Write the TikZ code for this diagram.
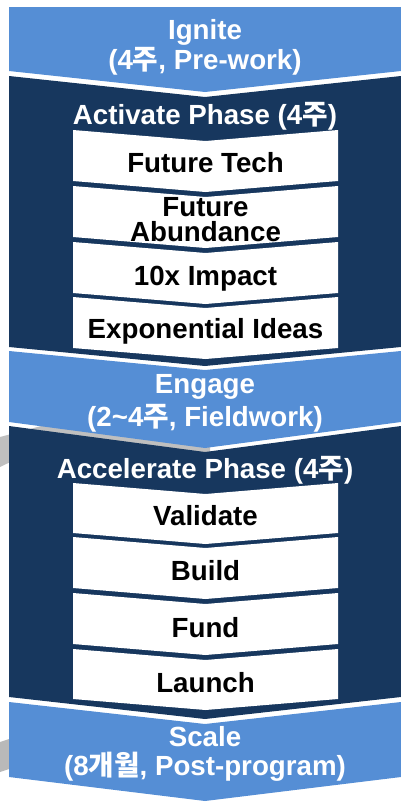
\documentclass[tikz,border=0pt]{standalone}
\usepackage{fontspec}
\setmainfont{Liberation Sans}
\newfontfamily\kr{Noto Sans CJK KR}
\definecolor{lblue}{HTML}{558ED5}
\definecolor{navy}{HTML}{17375E}
\newcommand\chevband[5]{\fill[#1] (9,#2) -- (205,#2+#4) -- (401,#2) -- (401,#3) -- (205,#3+#5) -- (9,#3) -- cycle;}
\newcommand\innerchev[2]{\fill[white] (73,#1) -- (205.5,#1+11) -- (338,#1) -- (338,#2) -- (205.5,#2+11) -- (73,#2) -- cycle;}
\begin{document}
\begin{tikzpicture}[x=1pt,y=-1pt,
  wt/.style={text=white,font=\fontsize{27.7}{30}\selectfont\bfseries,anchor=base,inner sep=0pt},
  bt/.style={text=black,font=\fontsize{27.7}{30}\selectfont\bfseries,anchor=base,inner sep=0pt}]
\useasboundingbox (0,0) rectangle (400,803);
% faint grey background marks
\fill[gray!50] (0,437) -- (60,421) -- (210,441) -- (210,458) -- (60,438) -- (0,467) -- cycle;
\fill[gray!55] (0,742) -- (12,738) -- (12,768) -- (0,772) -- cycle;
% bands
\fill[lblue] (9,7) -- (401,7) -- (401,71) -- (205,92) -- (9,71) -- cycle;
\chevband{navy}{76}{347}{21}{19}
\chevband{lblue}{351}{422}{19}{26}
\chevband{navy}{426}{697}{26}{22}
\chevband{lblue}{702}{777}{22}{24}
% inner boxes
\innerchev{130}{181}
\innerchev{186}{237}
\innerchev{242}{293}
\innerchev{297}{348}
\innerchev{483}{533}
\innerchev{537}{588}
\innerchev{593}{644}
\innerchev{649}{699}
% texts
\node[wt] (ig1) at (205,39) {Ignite};
\node[wt] (ig2) at (205,69) {(4{\kr\bfseries 주}, Pre-work)};
\node[wt] (act) at (205,124) {Activate Phase (4{\kr\bfseries 주})};
\node[bt] (ft) at (205.5,172) {Future Tech};
\node[bt] (fa1) at (205.5,216) {Future};
\node[bt] (fa2) at (205.5,241) {Abundance};
\node[bt] (tx) at (205.5,285) {10x Impact};
\node[bt] (ei) at (205.5,338) {Exponential Ideas};
\node[wt] (en1) at (205,393) {Engage};
\node[wt] (en2) at (205,426) {(2\textasciitilde4{\kr\bfseries 주}, Fieldwork)};
\node[wt] (acc) at (205,478) {Accelerate Phase (4{\kr\bfseries 주})};
\node[bt] (va) at (205.5,525) {Validate};
\node[bt] (bu) at (205.5,580) {Build};
\node[bt] (fu) at (205.5,637) {Fund};
\node[bt] (la) at (205.5,692) {Launch};
\node[wt] (sc1) at (205,746) {Scale};
\node[wt] (sc2) at (205,775) {(8{\kr\bfseries 개월}, Post-program)};
\end{tikzpicture}
\end{document}
